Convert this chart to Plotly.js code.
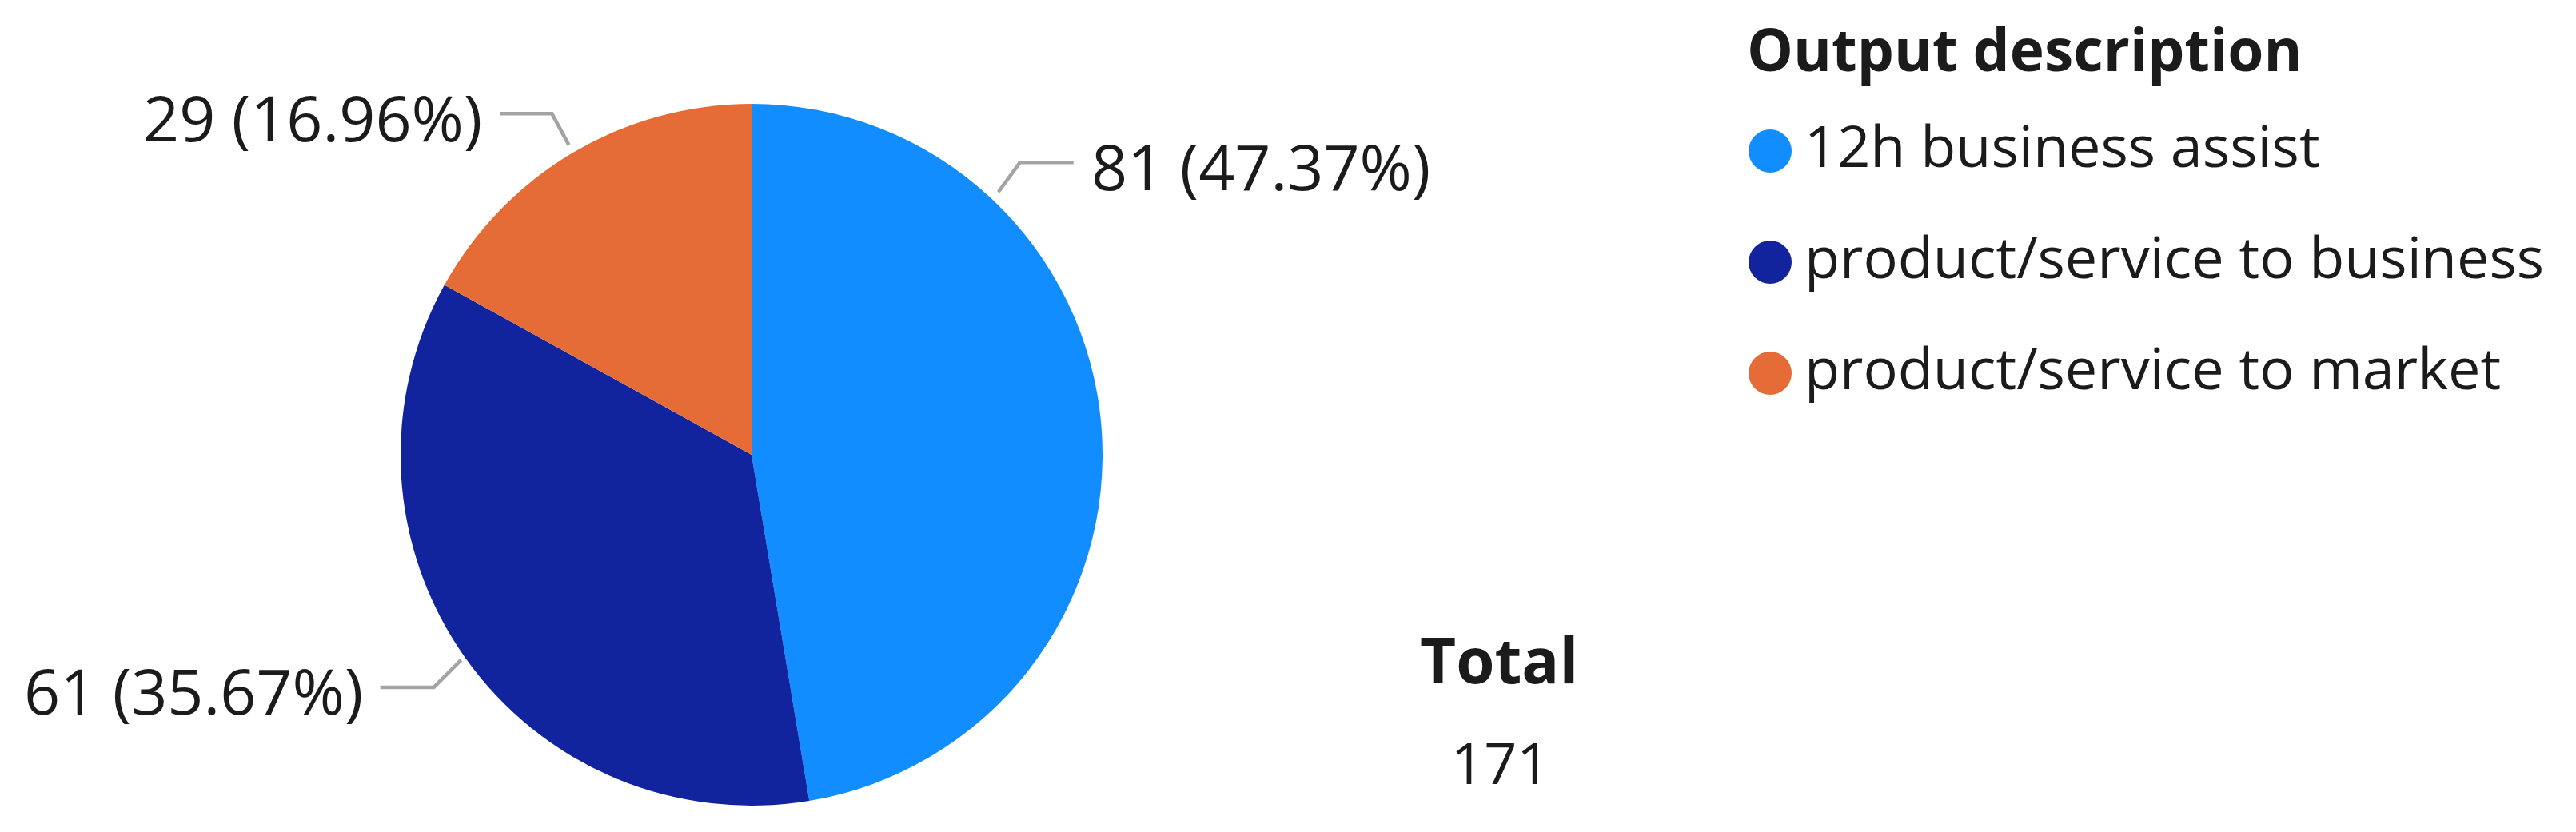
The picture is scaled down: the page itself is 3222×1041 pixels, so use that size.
<!DOCTYPE html>
<html><head><meta charset="utf-8">
<script src="https://cdn.plot.ly/plotly-3.0.1.min.js"></script>
<style>html,body{margin:0;padding:0;background:#fff;overflow:hidden}#chart{width:3222px;height:1041px}</style>
</head><body><div id="chart"></div>
<script>
// ---- data ----
const labels = ['12h business assist', 'product/service to business', 'product/service to market'];
const values = [81, 61, 29];
const colors = ['#118DFF', '#12239E', '#E66C37'];
const legendTitle = 'Output description';
const totalLabel = 'Total';

// ---- layout / style ----
const W = 3222, H = 1041;
const cx = 940, cy = 569, R = 439;          // pie centre and radius in px
const px = x => x / W, py = y => 1 - y / H;
const FONT = 'Segoe UI, Open Sans, sans-serif';
const TXT = '#1b1b1b';
const total = values.reduce((a, b) => a + b, 0);

// leader-line styling per slice (angle null -> slice mid-angle)
const labelStyle = [
  {angle: 43.2, gap: 12, dx: 27,  dy: -37, run: 67, side: 1},
  {angle: null, gap: 6,  dx: -34, dy: 34,  run: 67, side: -1},
  {angle: null, gap: 11, dx: -21, dy: -39, run: 65, side: -1}
];

const shapes = [];
const annotations = [];

// data labels with leader lines
let cum = 0;
values.forEach((v, i) => {
  const frac = v / total;
  const mid = (cum + frac / 2) * 360;
  cum += frac;
  const st = labelStyle[i];
  const a = (st.angle === null ? mid : st.angle) * Math.PI / 180;
  const r = R + st.gap;
  const x0 = cx + r * Math.sin(a), y0 = cy - r * Math.cos(a);
  const x1 = x0 + st.dx, y1 = y0 + st.dy;
  const x2 = x1 + st.side * st.run;
  shapes.push({
    type: 'path', xref: 'paper', yref: 'paper',
    path: `M${px(x0)},${py(y0)} L${px(x1)},${py(y1)} L${px(x2)},${py(y1)}`,
    line: {color: '#a3a3a3', width: 4.5}
  });
  annotations.push({
    xref: 'paper', yref: 'paper', showarrow: false,
    x: px(x2 + st.side * 20), y: py(y1 + 4),
    xanchor: st.side > 0 ? 'left' : 'right', yanchor: 'middle',
    text: `${v} (${(frac * 100).toFixed(2)}%)`,
    font: {family: FONT, size: 79, color: TXT}
  });
});

// manual legend (circle markers)
const legX = 2187, legTitleY = 60, legY0 = 189, legStep = 139, dot = 54;
annotations.push({
  xref: 'paper', yref: 'paper', showarrow: false,
  x: px(legX - 4), y: py(legTitleY), xanchor: 'left', yanchor: 'middle',
  text: '<b>' + legendTitle + '</b>',
  font: {family: FONT, size: 73, color: TXT}
});
labels.forEach((lab, i) => {
  const yc = legY0 + i * legStep;
  shapes.push({
    type: 'circle', xref: 'paper', yref: 'paper',
    x0: px(legX), x1: px(legX + dot), y0: py(yc + dot / 2), y1: py(yc - dot / 2),
    fillcolor: colors[i], line: {width: 0}
  });
  annotations.push({
    xref: 'paper', yref: 'paper', showarrow: false,
    x: px(legX + dot + 14), y: py(yc - 8), xanchor: 'left', yanchor: 'middle',
    text: lab,
    font: {family: FONT, size: 72, color: TXT}
  });
});

// total card
annotations.push({
  xref: 'paper', yref: 'paper', showarrow: false,
  x: px(1875), y: py(825), xanchor: 'center', yanchor: 'middle',
  text: '<b>' + totalLabel + '</b>',
  font: {family: FONT, size: 78, color: TXT}
});
annotations.push({
  xref: 'paper', yref: 'paper', showarrow: false,
  x: px(1877), y: py(953), xanchor: 'center', yanchor: 'middle',
  text: String(total),
  font: {family: FONT, size: 72, color: TXT}
});

const trace = {
  type: 'pie',
  labels: labels,
  values: values,
  marker: {colors: colors, line: {width: 0}},
  sort: false,
  direction: 'clockwise',
  rotation: 0,
  textinfo: 'none',
  hoverinfo: 'label+value+percent',
  domain: {x: [px(cx - R), px(cx + R)], y: [py(cy + R), py(cy - R)]}
};

const layout = {
  width: W, height: H,
  margin: {l: 0, r: 0, t: 0, b: 0, pad: 0},
  showlegend: false,
  paper_bgcolor: '#ffffff',
  shapes: shapes,
  annotations: annotations
};

Plotly.newPlot('chart', [trace], layout, {displayModeBar: false, staticPlot: true});
</script>
</body></html>
